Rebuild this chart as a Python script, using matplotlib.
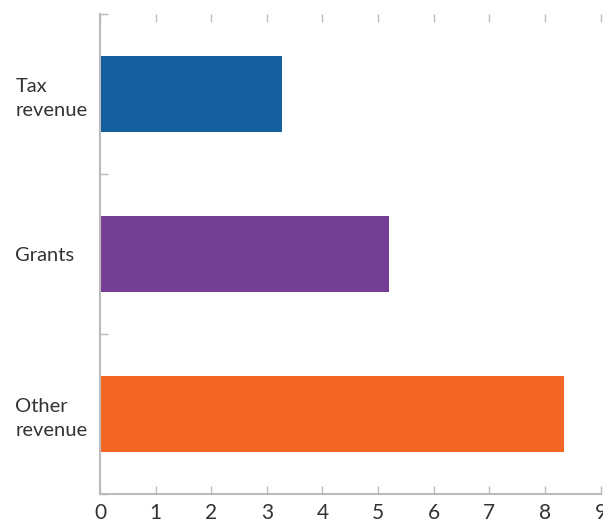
import matplotlib
matplotlib.use("Agg")
import matplotlib.pyplot as plt
import numpy as np

# data
categories = ["Tax\nrevenue", "Grants", "Other\nrevenue"]
values = [3.27, 5.2, 8.35]
colors = ["#14609E", "#743D96", "#F26522"]
x_ticks = list(range(0, 10))

plt.rcParams['font.family'] = ['Lato', 'DejaVu Sans']

fig = plt.figure(figsize=(6.03, 5.20), dpi=100)
ax = fig.add_axes([100 / 603, 26 / 520, 500.5 / 603, 480 / 520])

ypos = np.arange(len(categories))
ax.barh(ypos, values, height=0.47, color=colors)

ax.set_xlim(0, 9)
ax.set_ylim(len(categories) - 0.5, -0.5)

# x axis ticks on bottom and top, pointing inward
ax.set_xticks(x_ticks)
ax.set_xticklabels([str(t) for t in x_ticks], fontsize=15, color="#333333")
ax.tick_params(axis="x", which="major", direction="in", top=True, bottom=True,
               length=5.5, width=1, color="#bbbbbb", pad=6.5)

# y ticks at category boundaries, labels on minor ticks
ax.set_yticks(np.arange(-0.5, len(categories), 1.0))
ax.set_yticklabels([])
ax.tick_params(axis="y", which="major", direction="in", length=5.5, width=1, color="#bbbbbb")
ax.set_yticks(ypos, minor=True)
ax.set_yticklabels(categories, minor=True, fontsize=14.5, color="#333333", linespacing=1.45)
ax.tick_params(axis="y", which="minor", length=0, pad=61)
for lab in ax.get_yticklabels(minor=True):
    lab.set_horizontalalignment("left")

for side in ["top", "right"]:
    ax.spines[side].set_visible(False)
for side in ["left", "bottom"]:
    ax.spines[side].set_color("#bbbbbb")
    ax.spines[side].set_linewidth(1.5)

fig.savefig("out.png", dpi=100)
